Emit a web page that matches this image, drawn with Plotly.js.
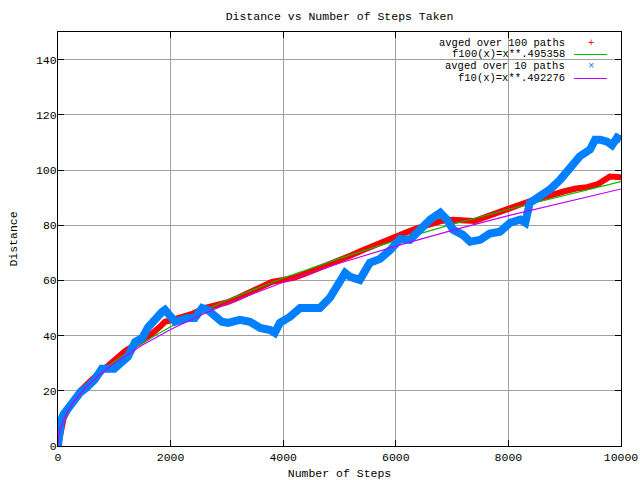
<!DOCTYPE html>
<html>
<head>
<meta charset="utf-8">
<script src="https://cdn.plot.ly/plotly-3.0.1.min.js"></script>
<style>html,body{margin:0;padding:0;background:#fff;}#chart{width:640px;height:480px;}</style>
</head>
<body>
<div id="chart"></div>
<script>
// averaged over 100 paths (red)
const stepsRed = [0, 50, 100, 200, 300, 400, 600, 800, 1000, 1200, 1400, 1600, 1800, 1900, 2000, 2200, 2400, 2600, 2800, 3000, 3200, 3400, 3600, 3800, 4000, 4200, 4400, 4600, 4800, 5000, 5200, 5400, 5600, 5800, 6000, 6200, 6400, 6600, 6800, 7000, 7200, 7400, 7600, 7800, 8000, 8200, 8400, 8600, 8800, 9000, 9200, 9400, 9600, 9800, 10000];
const distRed = [0, 6, 10, 14, 17, 20, 24, 27.5, 31, 34.5, 37, 39.5, 43, 45, 45.5, 46.5, 48, 50, 51, 52, 53.7, 55.5, 57.3, 59.5, 60.2, 61, 62.5, 64, 66, 67.5, 69, 70.8, 72.5, 74.5, 76, 77.5, 79, 80.5, 81.5, 82, 81.5, 81.5, 83, 84.3, 86, 87.4, 88.8, 90, 91.5, 92.3, 93.3, 93.8, 95, 97.6, 97.4];

// averaged over 10 paths (blue)
const stepsBlue = [0, 20, 50, 100, 200, 300, 400, 500, 650, 780, 900, 1000, 1140, 1240, 1370, 1490, 1600, 1720, 1850, 1900, 1990, 2080, 2200, 2310, 2430, 2560, 2660, 2790, 2910, 3020, 3230, 3410, 3590, 3770, 3850, 3940, 4120, 4300, 4480, 4650, 4830, 5010, 5100, 5190, 5360, 5540, 5720, 5900, 6075, 6250, 6430, 6610, 6790, 6910, 7020, 7190, 7320, 7500, 7670, 7850, 8030, 8210, 8300, 8380, 8560, 8740, 8920, 9090, 9270, 9450, 9540, 9630, 9750, 9840, 9930, 10000];
const distBlue = [0, 4, 9, 11.5, 14.5, 17.4, 19.5, 21, 24, 28, 27.6, 28, 30.5, 32.3, 37.7, 39, 43, 46, 48.6, 49.3, 46.8, 45, 45.7, 46.4, 46.4, 50, 49.3, 47.5, 45, 44.6, 45.7, 45, 42.8, 42, 41, 44.6, 46.8, 50, 50, 50, 53.7, 60.2, 62.7, 61.3, 60.2, 66.4, 67.8, 71, 75, 74.7, 78.3, 82, 84.5, 82, 78.3, 76.5, 74, 74.7, 77, 77.6, 80.9, 82, 80.9, 88.1, 90.5, 93, 96.5, 101, 105, 107.4, 111, 111, 110.3, 109, 111.7, 111];

// fitted curves (f100 green, f10 purple)
const stepsFit = [0, 1, 10, 25, 50, 100, 200, 300, 500, 750, 1000, 1500, 2000, 2500, 3000, 4000, 5000, 6000, 7000, 8000, 9000, 10000];
const fit100 = [0, 1, 3.13, 4.93, 6.94, 9.79, 13.80, 16.87, 21.73, 26.56, 30.63, 37.44, 43.18, 48.22, 52.80, 60.87, 67.98, 74.40, 80.30, 85.79, 90.94, 95.81];
const fit10 = [0, 1, 3.11, 4.88, 6.86, 9.65, 13.58, 16.58, 21.32, 26.02, 29.98, 36.60, 42.18, 47.08, 51.51, 59.33, 66.22, 72.43, 78.13, 83.45, 88.42, 93.13];

const legendLabels = ['avged over 100 paths', 'f100(x)=x**.495358', 'avged over 10 paths', 'f10(x)=x**.492276'];
const xTicks = [0, 2000, 4000, 6000, 8000, 10000];
const yTicks = [0, 20, 40, 60, 80, 100, 120, 140];

const colors = ['#ff0000', '#00c000', '#0080ff', '#c000ff'];
const FONT = 'Liberation Mono, DejaVu Sans Mono, monospace';

const traces = [
  {x: stepsRed, y: distRed, mode: 'lines', line: {color: colors[0], width: 6}, name: legendLabels[0]},
  {x: stepsFit, y: fit100, mode: 'lines', line: {color: colors[1], width: 1.2}, name: legendLabels[1]},
  {x: stepsBlue, y: distBlue, mode: 'lines', line: {color: colors[2], width: 8}, name: legendLabels[2]},
  {x: stepsFit, y: fit10, mode: 'lines', line: {color: colors[3], width: 1.2}, name: legendLabels[3]}
];

// legend drawn as annotations (gnuplot style: text right, sample at right)
const rowY = [0.9746, 0.9457, 0.9167, 0.8877];
const annotations = legendLabels.map((t, i) => ({
  text: t, xref: 'paper', yref: 'paper', x: 0.903, y: rowY[i],
  xanchor: 'right', yanchor: 'middle', showarrow: false, borderpad: 0,
  font: {family: FONT, size: 10.5, color: '#000'}
}));
annotations.push({text: '+', xref: 'paper', yref: 'paper', x: 0.946, y: rowY[0], xanchor: 'center', yanchor: 'middle', showarrow: false, borderpad: 0, font: {family: FONT, size: 10.5, color: colors[0]}});
annotations.push({text: '×', xref: 'paper', yref: 'paper', x: 0.946, y: rowY[2], xanchor: 'center', yanchor: 'middle', showarrow: false, borderpad: 0, font: {family: FONT, size: 10.5, color: colors[2]}});

const shapes = [
  {type: 'rect', xref: 'paper', yref: 'paper', x0: 0.657, x1: 0.997, y0: 0.870, y1: 0.998, fillcolor: '#ffffff', line: {width: 0}, layer: 'between'},
  {type: 'line', xref: 'paper', yref: 'paper', x0: 0.9165, x1: 0.975, y0: rowY[1], y1: rowY[1], line: {color: colors[1], width: 1.2}, layer: 'between'},
  {type: 'line', xref: 'paper', yref: 'paper', x0: 0.9165, x1: 0.975, y0: rowY[3], y1: rowY[3], line: {color: colors[3], width: 1.2}, layer: 'between'}
];

const axisCommon = {
  showline: true, linecolor: '#000', linewidth: 1, mirror: 'ticks',
  ticks: 'inside', ticklen: 6, tickcolor: '#000', tickwidth: 1,
  showgrid: true, gridcolor: '#a0a0a0', gridwidth: 1, zeroline: false,
  tickfont: {family: FONT, size: 11.5, color: '#000'}
};

const layout = {
  width: 640, height: 480,
  margin: {l: 58, r: 19, t: 32, b: 34},
  paper_bgcolor: '#fff', plot_bgcolor: '#fff',
  showlegend: false,
  title: {text: 'Distance vs Number of Steps Taken', x: 0.5, xref: 'paper', xanchor: 'center', y: 0.967, yref: 'container', yanchor: 'middle', font: {family: FONT, size: 11.5, color: '#000'}},
  xaxis: Object.assign({}, axisCommon, {range: [0, 10000], tickvals: xTicks, ticktext: xTicks.map(String), title: {text: 'Number of Steps', standoff: 7, font: {family: FONT, size: 11.5, color: '#000'}}}),
  yaxis: Object.assign({}, axisCommon, {range: [0, 150], tickvals: yTicks, ticktext: yTicks.map(String), ticklabelstandoff: -2, title: {text: 'Distance', standoff: 15, font: {family: FONT, size: 11.5, color: '#000'}}}),
  annotations: annotations,
  shapes: shapes
};

Plotly.newPlot('chart', traces, layout, {displayModeBar: false, staticPlot: true});
</script>
</body>
</html>
